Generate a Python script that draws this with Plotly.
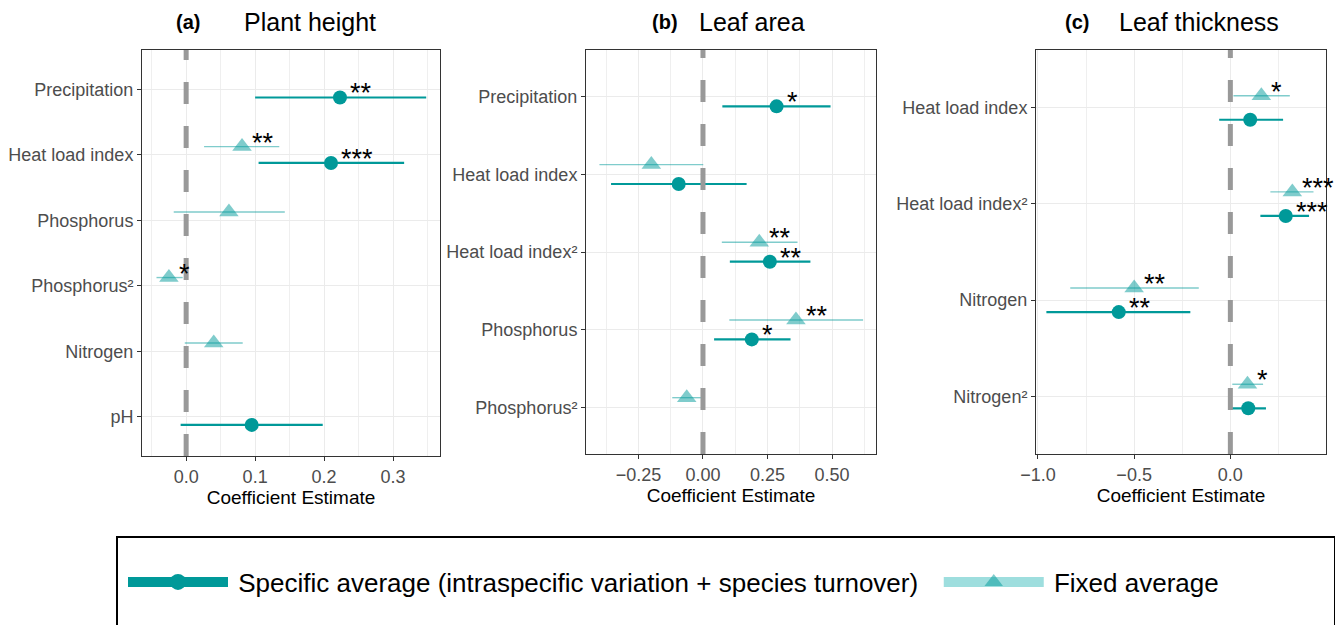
import plotly.graph_objects as go

# page body has an 8px margin: figure is sized/positioned to compensate
OFF = 8
W, H = 1343 - OFF, 625 - OFF
FONT = "Liberation Sans, Arial, Helvetica, sans-serif"
TEAL = "#009999"
FIX_FILL = "rgba(0,153,153,0.5)"
FIX_LINE = "rgba(0,153,153,0.5)"
DODGE = 0.125


def px2x(px):
    return (px - OFF) / W


def px2y(py):
    return 1 - (py - OFF) / H


# ---------------- Panel (a) Plant height ----------------
a_terms = ["Precipitation", "Heat load index", "Phosphorus", "Phosphorus²", "Nitrogen", "pH"]
a_spec_terms = ["Precipitation", "Heat load index", "pH"]
a_spec_est = [0.223, 0.210, 0.095]
a_spec_lo = [0.100, 0.105, -0.008]
a_spec_hi = [0.348, 0.316, 0.198]
a_spec_sig = ["**", "***", ""]
a_fix_terms = ["Heat load index", "Phosphorus", "Phosphorus²", "Nitrogen"]
a_fix_est = [0.081, 0.062, -0.025, 0.040]
a_fix_lo = [0.026, -0.018, -0.043, -0.002]
a_fix_hi = [0.135, 0.143, -0.005, 0.082]
a_fix_sig = ["**", "", "*", ""]

# ---------------- Panel (b) Leaf area ----------------
b_terms = ["Precipitation", "Heat load index", "Heat load index²", "Phosphorus", "Phosphorus²"]
b_spec_terms = ["Precipitation", "Heat load index", "Heat load index²", "Phosphorus"]
b_spec_est = [0.285, -0.094, 0.259, 0.189]
b_spec_lo = [0.075, -0.356, 0.104, 0.043]
b_spec_hi = [0.494, 0.169, 0.416, 0.339]
b_spec_sig = ["*", "", "**", "*"]
b_fix_terms = ["Heat load index", "Heat load index²", "Phosphorus", "Phosphorus²"]
b_fix_est = [-0.200, 0.218, 0.360, -0.063]
b_fix_lo = [-0.401, 0.073, 0.102, -0.119]
b_fix_hi = [0.001, 0.366, 0.620, 0.001]
b_fix_sig = ["", "**", "**", ""]

# ---------------- Panel (c) Leaf thickness ----------------
c_terms = ["Heat load index", "Heat load index²", "Nitrogen", "Nitrogen²"]
c_spec_terms = ["Heat load index", "Heat load index²", "Nitrogen", "Nitrogen²"]
c_spec_est = [0.103, 0.288, -0.580, 0.093]
c_spec_lo = [-0.058, 0.156, -0.956, 0.003]
c_spec_hi = [0.274, 0.409, -0.208, 0.185]
c_spec_sig = ["", "***", "**", ""]
c_fix_terms = ["Heat load index", "Heat load index²", "Nitrogen", "Nitrogen²"]
c_fix_est = [0.161, 0.322, -0.500, 0.089]
c_fix_lo = [0.016, 0.208, -0.832, 0.010]
c_fix_hi = [0.309, 0.432, -0.164, 0.170]
c_fix_sig = ["*", "***", "**", "*"]

legend_names = ["Specific average (intraspecific variation + species turnover)",
                "Fixed average"]

panels = [
    dict(tag="(a)", title="Plant height", terms=a_terms,
         spec=(a_spec_terms, a_spec_est, a_spec_lo, a_spec_hi, a_spec_sig),
         fix=(a_fix_terms, a_fix_est, a_fix_lo, a_fix_hi, a_fix_sig),
         xr=[-0.064, 0.368], dtick=0.1, fmt=".1f",
         px=(142, 440), py=(50, 456), tagx=188, titlex=310),
    dict(tag="(b)", title="Leaf area", terms=b_terms,
         spec=(b_spec_terms, b_spec_est, b_spec_lo, b_spec_hi, b_spec_sig),
         fix=(b_fix_terms, b_fix_est, b_fix_lo, b_fix_hi, b_fix_sig),
         xr=[-0.453, 0.670], dtick=0.25, fmt=".2f",
         px=(586, 876), py=(50, 454), tagx=665, titlex=752),
    dict(tag="(c)", title="Leaf thickness", terms=c_terms,
         spec=(c_spec_terms, c_spec_est, c_spec_lo, c_spec_hi, c_spec_sig),
         fix=(c_fix_terms, c_fix_est, c_fix_lo, c_fix_hi, c_fix_sig),
         xr=[-1.010, 0.497], dtick=0.5, fmt=".1f",
         px=(1036, 1326), py=(50, 454), tagx=1077, titlex=1199),
]

fig = go.Figure()
annotations = []
shapes = []
layout_axes = {}

for i, p in enumerate(panels):
    n = i + 1
    xa = "x" if n == 1 else f"x{n}"
    ya = "y" if n == 1 else f"y{n}"
    xkey = "xaxis" if n == 1 else f"xaxis{n}"
    ykey = "yaxis" if n == 1 else f"yaxis{n}"
    idx = {t: k for k, t in enumerate(p["terms"])}

    # fixed average (triangles, thin light bar)
    ft, fe, flo, fhi, fs = p["fix"]
    fy = [idx[t] - DODGE for t in ft]
    fig.add_trace(go.Scatter(
        x=fe, y=fy, mode="markers", xaxis=xa, yaxis=ya, showlegend=False,
        marker=dict(symbol="triangle-up", size=17, color=FIX_FILL, line=dict(width=0)),
        error_x=dict(type="data", symmetric=False,
                     array=[h - e for h, e in zip(fhi, fe)],
                     arrayminus=[e - l for e, l in zip(fe, flo)],
                     width=0, thickness=1.4, color=FIX_LINE),
        hoverinfo="skip"))
    # specific average (circles, thicker dark bar)
    st, se, slo, shi, ss = p["spec"]
    sy = [idx[t] + DODGE for t in st]
    fig.add_trace(go.Scatter(
        x=se, y=sy, mode="markers", xaxis=xa, yaxis=ya, showlegend=False,
        marker=dict(symbol="circle", size=14, color=TEAL, line=dict(width=0)),
        error_x=dict(type="data", symmetric=False,
                     array=[h - e for h, e in zip(shi, se)],
                     arrayminus=[e - l for e, l in zip(se, slo)],
                     width=0, thickness=2.2, color=TEAL),
        hoverinfo="skip"))

    for xs, ys, sg in ((fe, fy, fs), (se, sy, ss)):
        for xv, yv, s in zip(xs, ys, sg):
            if s:
                annotations.append(dict(
                    x=xv, y=yv, xref=xa, yref=ya, text=s, showarrow=False,
                    xanchor="left", yanchor="middle", xshift=8, yshift=4,
                    font=dict(size=27, color="black", family=FONT)))

    x0, x1 = p["px"]
    y0, y1 = p["py"]
    nterm = len(p["terms"])
    layout_axes[xkey] = dict(
        domain=[px2x(x0), px2x(x1)], anchor=ya, range=p["xr"], automargin=False,
        dtick=p["dtick"], tick0=0, tickformat=p["fmt"],
        showgrid=True, gridcolor="#EBEBEB", gridwidth=1.1,
        minor=dict(dtick=p["dtick"] / 2, tick0=0, showgrid=True,
                   gridcolor="#EFEFEF", gridwidth=0.6, ticks=""),
        zeroline=False, showline=True, mirror=True, linecolor="#333333", linewidth=1,
        ticks="outside", ticklen=4, tickcolor="#333333", tickwidth=1,
        tickfont=dict(size=18, color="#4D4D4D", family=FONT),
        title=dict(text="Coefficient Estimate", standoff=0,
                   font=dict(size=19, color="black", family=FONT)))
    layout_axes[ykey] = dict(
        domain=[px2y(y1), px2y(y0)], anchor=xa, automargin=False,
        range=[nterm - 1 + 0.6, -0.6], tickmode="array",
        tickvals=list(range(nterm)), ticktext=p["terms"],
        showgrid=True, gridcolor="#EBEBEB", gridwidth=1.1, zeroline=False,
        showline=True, mirror=True, linecolor="#333333", linewidth=1,
        ticks="outside", ticklen=4, tickcolor="#333333", tickwidth=1,
        tickfont=dict(size=18, color="#4D4D4D", family=FONT))

    shapes.append(dict(type="line", xref=xa, yref=f"{ya} domain", x0=0, x1=0, y0=0, y1=1,
                       line=dict(color="#999999", width=5, dash="22px,22px"), layer="above"))

    annotations.append(dict(x=px2x(p["tagx"]), y=px2y(22), xref="paper", yref="paper",
                            text="<b>" + p["tag"] + "</b>", showarrow=False,
                            xanchor="center", yanchor="middle",
                            font=dict(size=20, color="black", family=FONT)))
    annotations.append(dict(x=px2x(p["titlex"]), y=px2y(22), xref="paper", yref="paper",
                            text=p["title"], showarrow=False,
                            xanchor="center", yanchor="middle",
                            font=dict(size=25, color="black", family=FONT)))

# legend frame (extends past the bottom edge as in the reference)
shapes.append(dict(type="rect", xref="paper", yref="paper",
                   x0=px2x(117), x1=px2x(1335), y0=-0.05, y1=px2y(537),
                   line=dict(color="black", width=2), fillcolor="rgba(0,0,0,0)",
                   layer="above"))

# legend-only entries (thin spaces only pad the spacing between entries)
fig.add_trace(go.Scatter(
    x=[None], y=[None], mode="lines+markers",
    name="\u2009" + legend_names[0] + "\u2009\u2009\u2009",
    line=dict(color=TEAL, width=10),
    marker=dict(symbol="circle", size=24, color=TEAL)))
fig.add_trace(go.Scatter(
    x=[None], y=[None], mode="lines+markers", name="\u2009" + legend_names[1],
    line=dict(color="#9EDEDE", width=10),
    marker=dict(symbol="triangle-up", size=24, color=FIX_FILL)))

fig.update_layout(
    width=W, height=H, margin=dict(l=0, r=0, t=0, b=0, autoexpand=False),
    paper_bgcolor="white", plot_bgcolor="white",
    font=dict(family=FONT),
    annotations=annotations, shapes=shapes,
    showlegend=True,
    legend=dict(orientation="h", x=px2x(123), y=px2y(582), xanchor="left", yanchor="middle",
                borderwidth=0, bgcolor="rgba(0,0,0,0)",
                font=dict(size=26, color="black", family=FONT),
                itemwidth=100, itemsizing="trace"),
    **layout_axes)

fig.write_html("out.html")
